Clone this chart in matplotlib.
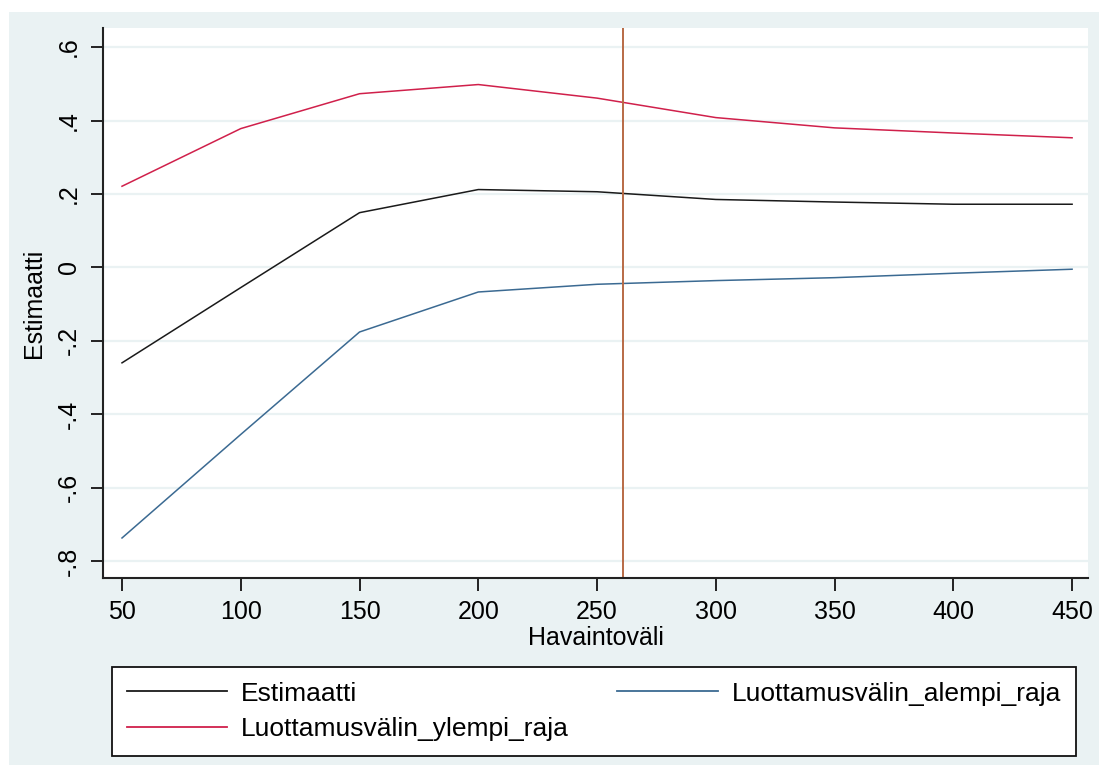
import matplotlib.pyplot as plt
from matplotlib.patches import Rectangle

# Data
havaintovali = [50, 100, 150, 200, 250, 300, 350, 400, 450]
estimaatti = [-0.260, -0.055, 0.149, 0.212, 0.206, 0.185, 0.178, 0.172, 0.172]
alempi_raja = [-0.737, -0.455, -0.176, -0.067, -0.046, -0.036, -0.028, -0.016, -0.005]
ylempi_raja = [0.221, 0.378, 0.473, 0.498, 0.461, 0.408, 0.380, 0.366, 0.353]
vline_x = 261
y_ticks = [-0.8, -0.6, -0.4, -0.2, 0, 0.2, 0.4, 0.6]
y_ticklabels = ["-.8", "-.6", "-.4", "-.2", "0", ".2", ".4", ".6"]
x_ticks = [50, 100, 150, 200, 250, 300, 350, 400, 450]

bg = "#EAF2F3"
plt.rcParams["font.family"] = ["Liberation Sans", "DejaVu Sans"]

W, H = 1099, 765
fig = plt.figure(figsize=(W / 100, H / 100), dpi=100, facecolor="white")

# Stata-like graph region
fig.patches.append(Rectangle((9 / W, 0), 1 - 9 / W, 1 - 12 / H,
                             transform=fig.transFigure, facecolor=bg,
                             edgecolor="none", zorder=-5))

ax = fig.add_axes([103 / W, 1 - 578 / H, (1088 - 103) / W, (578 - 28) / H])
ax.set_zorder(2)
ax.set_facecolor("white")

ax.plot(havaintovali, estimaatti, color="#1a1a1a", lw=1.1,
        label="Estimaatti")
ax.plot(havaintovali, ylempi_raja, color="#D0204B", lw=1.1,
        label="Luottamusvälin_ylempi_raja")
ax.plot(havaintovali, alempi_raja, color="#3B6A92", lw=1.1,
        label="Luottamusvälin_alempi_raja")
ax.axvline(vline_x, color="#B86A45", lw=1.4)

ax.set_xlim(42, 456.7)
ax.set_ylim(-0.846, 0.652)
ax.set_xticks(x_ticks)
ax.set_yticks(y_ticks)
ax.set_yticklabels(y_ticklabels, rotation=90, va="center")
ax.grid(axis="y", color=bg, lw=1.6)
ax.set_axisbelow(True)

for s in ["top", "right"]:
    ax.spines[s].set_visible(False)
for s in ["left", "bottom"]:
    ax.spines[s].set_color("#222222")
    ax.spines[s].set_linewidth(1.5)
ax.tick_params(axis="both", length=9, width=1.4, color="#222222",
               labelsize=18, pad=7)

ax.set_xlabel("Havaintoväli", fontsize=18, labelpad=1)
ax.set_ylabel("Estimaatti", fontsize=18, labelpad=8)

handles, labels = ax.get_legend_handles_labels()
leg = fig.legend(handles, labels, loc="lower left", ncol=2, mode="expand",
                 bbox_to_anchor=(112 / W, 1 - 756 / H, (1076 - 112) / W, (756 - 667) / H),
                 fontsize=19, frameon=True, fancybox=False, framealpha=1,
                 handlelength=3.8, handletextpad=0.55, labelspacing=0.45,
                 borderpad=0.55, borderaxespad=0)
leg.get_frame().set_edgecolor("#111111")
leg.get_frame().set_linewidth(1.3)
leg.get_frame().set_facecolor("white")
for line in leg.get_lines():
    line.set_linewidth(1.3)

fig.savefig("out.png", dpi=100, facecolor=fig.get_facecolor())
